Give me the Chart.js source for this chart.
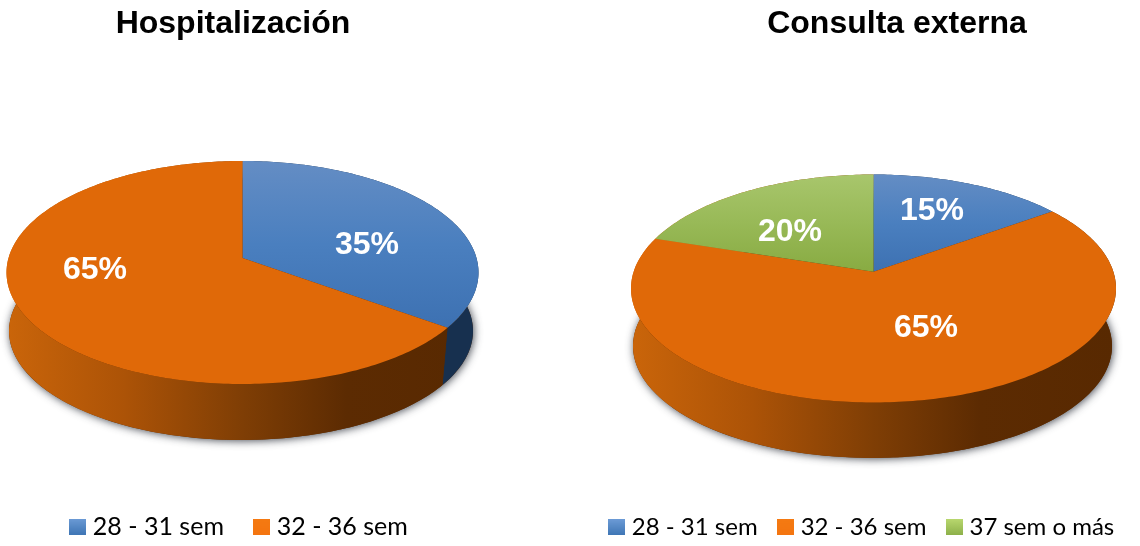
<!DOCTYPE html>
<html>
<head>
<meta charset="utf-8">
<title>Edad gestacional</title>
<script src="https://cdn.jsdelivr.net/npm/chart.js@4"></script>
<style>
    html, body { margin: 0; padding: 0; background: #fff; overflow: hidden; }
    canvas { position: absolute; top: 0; }
    #hospitalizacion { left: 0; }
    #consulta { left: 490px; }
</style>
</head>
<body>
<canvas id="hospitalizacion" width="570" height="546"></canvas>
<canvas id="consulta" width="650" height="546"></canvas>
<script>
const hospCategorias = ['28 - 31 sem', '32 - 36 sem'];
const hospValores = [35, 65];

const consultaCategorias = ['28 - 31 sem', '32 - 36 sem', '37 sem o más'];
const consultaValores = [15, 65, 20];

const colores = {
    '28 - 31 sem':  { cara: ['#648DC4', '#4A7FBF', '#3D71B2'], lado: '#17304F', caja: ['#6C9BD6', '#3F76B5'] },
    '32 - 36 sem':  { cara: ['#E06908', '#E06908', '#E06908'], lado: null, caja: ['#F57A12', '#F47510'] },
    '37 sem o más': { cara: ['#A8C66C', '#98B957', '#88AB42'], lado: null, caja: ['#B8D76E', '#8DB04A'] }
};

// cuadrito del legend con su degradado
function cajita(col) {
    const c = document.createElement('canvas');
    c.width = 17;
    c.height = 16;
    const x = c.getContext('2d');
    const g = x.createLinearGradient(0, 0, 0, 16);
    g.addColorStop(0, col[0]);
    g.addColorStop(1, col[1]);
    x.fillStyle = g;
    x.fillRect(0, 0, 17, 16);
    return c;
}

// proyecta un punto del disco (u, v) sobre la elipse con perspectiva
function proyectar(el, u, v) {
    const a = el.fuga;
    const w = 1 + a * v;
    return {
        x: el.cx + el.rx * Math.sqrt(1 - a * a) * u / w,
        y: el.cy + el.ry * (v + a) / w
    };
}

function borde(el, desde, hasta) {
    const pts = [];
    const n = Math.max(2, Math.ceil((hasta - desde) * 60));
    for (let i = 0; i <= n; i++) {
        const t = desde + (hasta - desde) * i / n;
        pts.push(proyectar(el, Math.cos(t), Math.sin(t)));
    }
    return pts;
}

function trazar(ctx, pts) {
    pts.forEach(p => ctx.lineTo(p.x, p.y));
}

const pie3d = {
    id: 'pie3d',
    afterLayout(chart, args, opts) {
        chart.titleBlock.left += opts.corrTitulo;
        chart.titleBlock.right += opts.corrTitulo;
        chart.legend.left += opts.corrLegend;
        chart.legend.right += opts.corrLegend;
        chart.legend.top += opts.corrLegendY;
        chart.legend.bottom += opts.corrLegendY;
    },
    beforeDatasetDraw(chart, args, opts) {
        const ctx = chart.ctx;
        const arcos = chart.getDatasetMeta(0).data;
        const cats = chart.data.labels;
        const valores = chart.data.datasets[0].data;
        const sup = opts.superior;
        const inf = opts.inferior;

        // sombra suave bajo la base
        ctx.save();
        ctx.shadowColor = 'rgba(40, 45, 55, 0.85)';
        ctx.shadowBlur = 8;
        ctx.shadowOffsetX = 1;
        ctx.shadowOffsetY = 1;
        ctx.fillStyle = '#5A2A02';
        ctx.beginPath();
        ctx.ellipse(inf.cx, inf.cy, inf.rx, inf.ry, 0, 0, Math.PI * 2);
        ctx.fill();
        ctx.restore();

        // paredes
        const gradLado = ctx.createLinearGradient(sup.cx - sup.rx, 0, sup.cx + sup.rx, 0);
        gradLado.addColorStop(0, '#CA650A');
        gradLado.addColorStop(0.25, '#AC5307');
        gradLado.addColorStop(0.5, '#7F3E05');
        gradLado.addColorStop(0.72, '#5C2B02');
        gradLado.addColorStop(1, '#582901');
        arcos.forEach((arco, i) => {
            const col = colores[cats[i]];
            const a = borde(sup, arco.startAngle, arco.endAngle);
            const b = borde(inf, arco.startAngle, arco.endAngle).reverse();
            ctx.beginPath();
            trazar(ctx, a.concat(b));
            ctx.closePath();
            ctx.fillStyle = col.lado || gradLado;
            ctx.fill();
        });

        // cara superior
        const apex = proyectar(sup, 0, 0);
        arcos.forEach((arco, i) => {
            const col = colores[cats[i]];
            const pts = borde(sup, arco.startAngle, arco.endAngle);
            const ys = pts.map(p => p.y).concat(apex.y);
            const g = ctx.createLinearGradient(0, Math.min(...ys), 0, Math.max(...ys));
            g.addColorStop(0, col.cara[0]);
            g.addColorStop(0.5, col.cara[1]);
            g.addColorStop(1, col.cara[2]);
            ctx.beginPath();
            ctx.moveTo(apex.x, apex.y);
            trazar(ctx, pts);
            ctx.closePath();
            ctx.fillStyle = g;
            ctx.fill();
        });

        // porcentajes
        ctx.save();
        ctx.font = 'bold 32px "Liberation Sans"';
        ctx.fillStyle = '#fff';
        ctx.textAlign = 'center';
        ctx.textBaseline = 'middle';
        valores.forEach((v, i) => {
            ctx.fillText(v + '%', opts.etiquetas[i][0], opts.etiquetas[i][1]);
        });
        ctx.restore();
        return false;
    }
};

function crearGrafico(id, titulo, categorias, valores, extra) {
    return new Chart(document.getElementById(id).getContext('2d'), {
        type: 'pie',
        data: {
            labels: categorias,
            datasets: [{
                data: valores,
                backgroundColor: categorias.map(c => colores[c].cara[0])
            }]
        },
        plugins: [pie3d],
        options: {
            responsive: false,
            animation: false,
            plugins: {
                tooltip: { enabled: false },
                title: {
                    display: true,
                    text: titulo,
                    color: '#000',
                    padding: { top: 5, bottom: 10 },
                    font: { family: '"Liberation Sans"', size: 32, weight: 'bold' }
                },
                legend: {
                    position: 'bottom',
                    labels: {
                        color: '#000',
                        font: { family: 'Lato', size: extra.tamLegend },
                        usePointStyle: true,
                        pointStyleWidth: 6,
                        boxHeight: 16,
                        padding: extra.sepLegend,
                        generateLabels(chart) {
                            return Chart.overrides.pie.plugins.legend.labels.generateLabels(chart).map((item, i) => {
                                item.pointStyle = cajita(colores[chart.data.labels[i]].caja);
                                return item;
                            });
                        }
                    }
                },
                pie3d: extra.geometria
            }
        }
    });
}

crearGrafico('hospitalizacion', 'Hospitalización', hospCategorias, hospValores, {
    tamLegend: 25,
    sepLegend: 34.3,
    geometria: {
        corrTitulo: -52,
        corrLegend: -43.9,
        corrLegendY: 3,
        superior: { cx: 242.5, cy: 272.5, rx: 236, ry: 111.5, fuga: -0.13 },
        inferior: { cx: 241, cy: 331, rx: 232, ry: 109, fuga: -0.13 },
        etiquetas: [[367, 245], [95, 270]]
    }
});

crearGrafico('consulta', 'Consulta externa', consultaCategorias, consultaValores, {
    tamLegend: 24,
    sepLegend: 25,
    geometria: {
        corrTitulo: 82,
        corrLegend: 49,
        corrLegendY: 3,
        superior: { cx: 383.5, cy: 288.5, rx: 242.5, ry: 114, fuga: -0.147 },
        inferior: { cx: 382.5, cy: 346, rx: 239.5, ry: 112, fuga: -0.147 },
        etiquetas: [[442, 211], [436, 328], [300, 232]]
    }
});
</script>
</body>
</html>
